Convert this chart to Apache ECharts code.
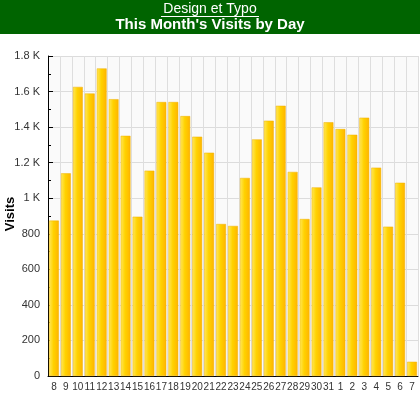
<!DOCTYPE html>
<html lang="en">
<head>
    <meta charset="UTF-8">
    <script src="https://cdn.jsdelivr.net/npm/echarts@6/dist/echarts.min.js"></script>
    <title>This Month's Visits by Day</title>
    <style>
      html, body { margin: 0; padding: 0; background: #fff; }
    </style>
</head>
<body>

<div id="main" style="width: 420px;height:398px;"></div>

<script>
  // days of the month, from the 8th to the 7th of next month
  var days = ['8','9','10','11','12','13','14','15','16','17','18','19','20','21','22','23',
              '24','25','26','27','28','29','30','31','1','2','3','4','5','6','7'];
  // visits per day
  var visits = [874, 1140, 1626, 1589, 1730, 1557, 1351, 896, 1155, 1541, 1541, 1462, 1346, 1256, 855, 844,
                1114, 1331, 1436, 1520, 1148, 883, 1061, 1427, 1389, 1357, 1453, 1172, 840, 1087, 80];

  var siteName = 'Design et Typo';
  var chartTitle = "This Month's Visits by Day";
  var yTitle = 'Visits';

  var myChart = echarts.init(document.getElementById('main'));

  var barColor = new echarts.graphic.LinearGradient(0, 0, 1, 0, [
    { offset: 0, color: '#ffe85a' },
    { offset: 0.45, color: '#ffd200' },
    { offset: 1, color: '#ffb400' }
  ]);

  var option = {
    animation: false,
    textStyle: { fontFamily: 'Liberation Sans, Arial, sans-serif' },
    graphic: [
      { type: 'rect', left: 0, top: 0, shape: { width: 420, height: 34 }, style: { fill: '#006400' }, z: 0 },
      { type: 'text', x: 210, y: 9, style: { text: siteName, fill: '#fff', font: '14px Liberation Sans, Arial',
        align: 'center', verticalAlign: 'middle' }, z: 1 },
      { type: 'line', shape: { x1: 161, y1: 16.5, x2: 259, y2: 16.5 }, style: { stroke: '#fff', lineWidth: 1 }, z: 1 },
      { type: 'text', x: 210, y: 25, style: { text: chartTitle, fill: '#fff', font: 'bold 15px Liberation Sans, Arial',
        align: 'center', verticalAlign: 'middle' }, z: 1 },
      // y axis title, rotated
      { type: 'text', x: 10, y: 214, rotation: Math.PI / 2, style: { text: yTitle, fill: '#000',
        font: 'bold 13px Liberation Sans, Arial', align: 'center', verticalAlign: 'middle' }, z: 1 }
    ],
    grid: {
      left: 48, right: 2, top: 56, bottom: 22,
      outerBoundsMode: 'none',
      containLabel: false,
      show: true, backgroundColor: '#fafafa', borderWidth: 0
    },
    xAxis: {
      type: 'category',
      data: days,
      axisLine: { lineStyle: { color: '#000', width: 1 } },
      axisTick: { inside: true, length: 4, lineStyle: { color: '#000' } },
      axisLabel: { color: '#333', fontSize: 10, margin: 6, interval: 0 },
      splitLine: { show: true, lineStyle: { color: '#dedede' } }
    },
    yAxis: {
      type: 'value',
      min: 0, max: 1800, interval: 200,
      axisLine: { show: true, lineStyle: { color: '#000' } },
      axisTick: { show: true, inside: true, length: 5, lineStyle: { color: '#000' } },
      minorTick: { show: true, splitNumber: 2, length: 3, lineStyle: { color: '#000' } },
      axisLabel: {
        color: '#333', fontSize: 11, margin: 8,
        formatter: function (v) { return v >= 1000 ? (v / 1000) + ' K' : v; }
      },
      splitLine: { show: true, lineStyle: { color: '#dcdcdc' } }
    },
    series: [{
      name: 'Visits',
      type: 'bar',
      data: visits,
      barCategoryGap: '18%',
      itemStyle: { color: barColor, borderColor: '#f0b000', borderWidth: 0.5 }
    }]
  };

  myChart.setOption(option);
</script>

</body>
</html>
